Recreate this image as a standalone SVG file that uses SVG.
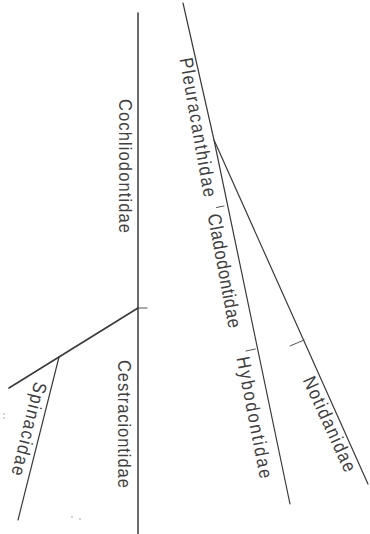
<svg xmlns="http://www.w3.org/2000/svg" width="370" height="534" viewBox="0 0 370 534">
  <style>
    .ln { fill: none; stroke: #3a3a3a; stroke-width: 1.2; stroke-linecap: round; stroke-linejoin: round; }
    .stem { stroke-width: 1.5; }
    .tick { fill: none; stroke: #555; stroke-width: 1; stroke-linecap: round; }
    .lbl { font-family: "Liberation Sans", Arial, sans-serif; font-size: 19px; fill: #404040; }
    .speck { fill: #888; }
  </style>
  <rect width="370" height="534" fill="#ffffff"/>

  <!-- branches of the tree -->
  <g id="connectors">
    <!-- main stem -->
    <line class="ln stem" x1="138" y1="13" x2="138" y2="534"/>
    <line class="tick" x1="138" y1="308" x2="147" y2="308"/>
    <!-- side branch to the left -->
    <line class="ln" style="stroke-width:1.6" x1="138" y1="308" x2="9" y2="388"/>
    <line class="ln" x1="59" y1="357" x2="18" y2="520"/>
    <!-- right-hand branch -->
    <polyline class="ln" points="183,3 214,140 290,504"/>
    <line class="ln" x1="214" y1="140" x2="368" y2="484"/>
    <!-- cross marks -->
    <line class="tick" x1="216.5" y1="207.5" x2="224" y2="206"/>
    <line class="tick" x1="246" y1="351" x2="255.5" y2="349"/>
    <line class="tick" x1="290" y1="346" x2="304" y2="340"/>
  </g>

  <!-- labels: condensed by a horizontal scale in the text frame -->
  <g id="cochliodontidae">
    <text class="lbl" transform="translate(118.5,99) rotate(90) scale(0.87,1)" textLength="154">Cochliodontidae</text>
  </g>
  <g id="cestraciontidae">
    <text class="lbl" transform="translate(117.5,360) rotate(90) scale(0.87,1)" textLength="147">Cestraciontidae</text>
  </g>
  <g id="pleuracanthidae">
    <text class="lbl" transform="translate(179.5,59) rotate(80) scale(0.87,1)" textLength="162">Pleuracanthidae</text>
  </g>
  <g id="cladodontidae">
    <text class="lbl" transform="translate(207.5,215) rotate(79.4) scale(0.87,1)" textLength="133">Cladodontidae</text>
  </g>
  <g id="hybodontidae">
    <text class="lbl" transform="translate(236.5,358) rotate(79) scale(0.87,1)" textLength="142">Hybodontidae</text>
  </g>
  <g id="notidanidae">
    <text class="lbl" transform="translate(302.5,380) rotate(65.5) scale(0.87,1)" textLength="118">Notidanidae</text>
  </g>
  <g id="spinacidae">
    <text class="lbl" transform="translate(34.5,381) rotate(104) scale(0.87,1)" textLength="110">Spinacidae</text>
  </g>

  <!-- small print specks -->
  <g id="specks">
    <circle class="speck" cx="4" cy="414" r="0.7"/>
    <circle class="speck" cx="4" cy="418" r="0.7"/>
    <circle class="speck" cx="72" cy="517" r="0.7"/>
    <circle class="speck" cx="80" cy="519" r="0.7"/>
  </g>
</svg>
